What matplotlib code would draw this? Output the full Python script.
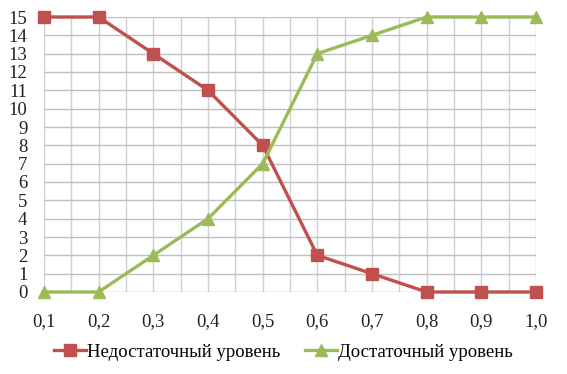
import matplotlib
matplotlib.use("Agg")
import matplotlib.pyplot as plt
import numpy as np

categories = ["0,1", "0,2", "0,3", "0,4", "0,5", "0,6", "0,7", "0,8", "0,9", "1,0"]
low_level = [15, 15, 13, 11, 8, 2, 1, 0, 0, 0]
enough_level = [0, 0, 2, 4, 7, 13, 14, 15, 15, 15]
y_ticks = list(range(0, 16))

plt.rcParams['font.family'] = ['Liberation Serif', 'DejaVu Serif']

fig = plt.figure(figsize=(5.67, 3.74), dpi=100)
ax = fig.add_axes([44/567, 1-292/374, (536-44)/567, (292-17)/374])

x = np.arange(len(categories))
ax.set_xlim(x[0], x[-1])
ax.set_ylim(0, 15)
ax.set_xticks(x)
ax.set_xticklabels(categories)
ax.set_xticks(x[:-1] + 0.5, minor=True)
ax.set_yticks(y_ticks)
ax.grid(True, which='both', axis='x', color='#d0d0d0', lw=1.0)
ax.grid(True, which='major', axis='y', color='#c0c0c0', lw=1.0)
ax.set_axisbelow(True)
for s in ax.spines.values():
    s.set_visible(False)
ax.tick_params(axis='both', which='both', length=0, labelsize=13.5, colors='#222222')
ax.tick_params(axis='x', pad=15)
ax.tick_params(axis='y', pad=12)

ax.plot(x, low_level, color='#c0504d', lw=2.4, marker='s', markersize=8,
        label='Недостаточный уровень', clip_on=False, zorder=3)
ax.plot(x, enough_level, color='#9bbb59', lw=2.4, marker='^', markersize=8,
        label='Достаточный уровень', clip_on=False, zorder=3)

fig.legend(loc='center', bbox_to_anchor=(0.5, 1-352/374), ncol=2, frameon=False,
           fontsize=13.5, handlelength=1.7, handletextpad=0.05, columnspacing=1.3)

fig.savefig('out.png', dpi=100)
